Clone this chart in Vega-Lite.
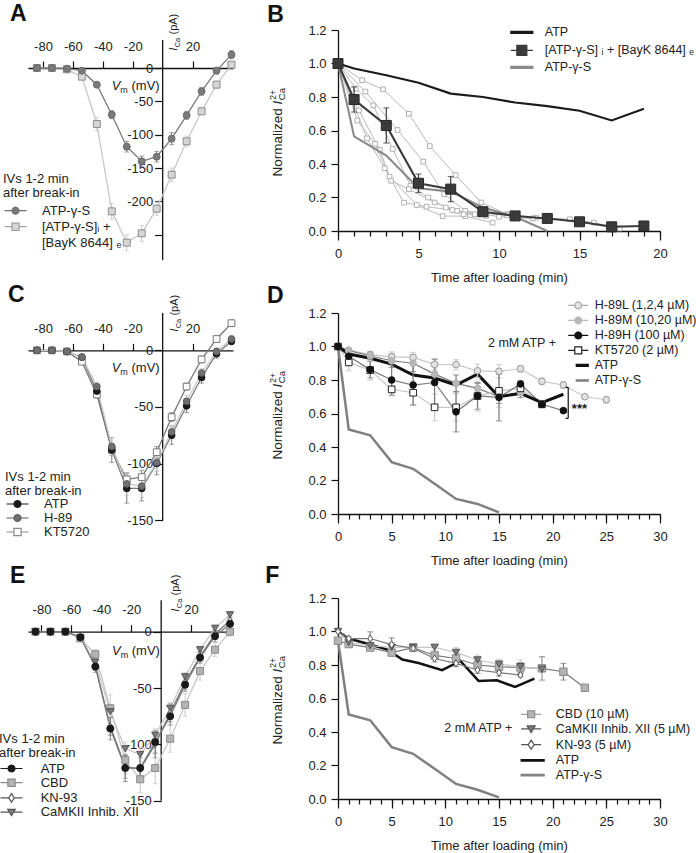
{
"$schema": "https://vega.github.io/schema/vega-lite/v6.json",
"autosize": {"type": "none"},
"padding": {"left": 28, "top": 30, "right": 668, "bottom": 823},
"background": "#ffffff",
"config": {
  "font": "Liberation Sans",
  "view": {"stroke": null},
  "axis": {"labelFont": "Liberation Sans", "labelFontSize": 13, "labelColor": "#222222", "domainColor": "#111111", "tickColor": "#111111", "domainWidth": 1.3, "tickWidth": 1.2, "grid": false, "titleFont": "Liberation Sans", "titleFontSize": 13, "titleFontWeight": "normal", "titleColor": "#222222", "labelFlush": false, "labelOverlap": false},
  "legend": {"labelFont": "Liberation Sans", "labelFontSize": 12.5, "labelColor": "#222222", "titleFont": "Liberation Sans", "titleFontSize": 12.5, "titleFontWeight": "normal", "titleColor": "#222222", "padding": 0, "labelLimit": 0, "titleLimit": 0, "symbolFillColor": "transparent", "symbolSize": 100, "symbolStrokeWidth": 1.2},
  "text": {"font": "Liberation Sans", "color": "#222222"}
},
"columns": 2,
"spacing": {"row": 53, "column": 105},
"bounds": "flush",
"align": "each",
"datasets": {
 "A": [
  {"s":"BayK","V":-84,"I":0,"e":0},{"s":"BayK","V":-74,"I":0,"e":0},{"s":"BayK","V":-64,"I":-2,"e":1},{"s":"BayK","V":-54,"I":-13,"e":2},{"s":"BayK","V":-44,"I":-84,"e":10},{"s":"BayK","V":-34,"I":-215,"e":12},{"s":"BayK","V":-24,"I":-262,"e":12},{"s":"BayK","V":-14,"I":-248,"e":12},{"s":"BayK","V":-4,"I":-211,"e":10},{"s":"BayK","V":6,"I":-160,"e":10},{"s":"BayK","V":16,"I":-110,"e":8},{"s":"BayK","V":26,"I":-65,"e":5},{"s":"BayK","V":36,"I":-25,"e":5},{"s":"BayK","V":46,"I":5,"e":3},
  {"s":"ATP-γ-S","V":-84,"I":0,"e":0},{"s":"ATP-γ-S","V":-74,"I":0,"e":0},{"s":"ATP-γ-S","V":-64,"I":-1,"e":0},{"s":"ATP-γ-S","V":-54,"I":-4,"e":1},{"s":"ATP-γ-S","V":-44,"I":-25,"e":3},{"s":"ATP-γ-S","V":-34,"I":-70,"e":6},{"s":"ATP-γ-S","V":-24,"I":-118,"e":8},{"s":"ATP-γ-S","V":-14,"I":-140,"e":8},{"s":"ATP-γ-S","V":-4,"I":-133,"e":8},{"s":"ATP-γ-S","V":6,"I":-106,"e":9},{"s":"ATP-γ-S","V":16,"I":-71,"e":6},{"s":"ATP-γ-S","V":26,"I":-35,"e":6},{"s":"ATP-γ-S","V":36,"I":-4,"e":5},{"s":"ATP-γ-S","V":46,"I":20,"e":6}
 ],
 "C": [
  {"s":"KT5720","V":-84,"I":0,"e":0},{"s":"KT5720","V":-74,"I":0,"e":0},{"s":"KT5720","V":-64,"I":-1,"e":0},{"s":"KT5720","V":-54,"I":-10,"e":1},{"s":"KT5720","V":-44,"I":-39,"e":3},{"s":"KT5720","V":-34,"I":-88,"e":5},{"s":"KT5720","V":-24,"I":-114,"e":6},{"s":"KT5720","V":-14,"I":-112,"e":6},{"s":"KT5720","V":-4,"I":-90,"e":5},{"s":"KT5720","V":6,"I":-59,"e":4},{"s":"KT5720","V":16,"I":-32,"e":3},{"s":"KT5720","V":26,"I":-8,"e":3},{"s":"KT5720","V":36,"I":10,"e":3},{"s":"KT5720","V":46,"I":24,"e":3},
  {"s":"ATP","V":-84,"I":0,"e":0},{"s":"ATP","V":-74,"I":0,"e":0},{"s":"ATP","V":-64,"I":-1,"e":0},{"s":"ATP","V":-54,"I":-6,"e":1},{"s":"ATP","V":-44,"I":-36,"e":5},{"s":"ATP","V":-34,"I":-88,"e":11},{"s":"ATP","V":-24,"I":-122,"e":13},{"s":"ATP","V":-14,"I":-122,"e":11},{"s":"ATP","V":-4,"I":-100,"e":10},{"s":"ATP","V":6,"I":-75,"e":8},{"s":"ATP","V":16,"I":-49,"e":6},{"s":"ATP","V":26,"I":-24,"e":5},{"s":"ATP","V":36,"I":-3,"e":4},{"s":"ATP","V":46,"I":8,"e":3},
  {"s":"H-89","V":-84,"I":0,"e":0},{"s":"H-89","V":-74,"I":0,"e":0},{"s":"H-89","V":-64,"I":-1,"e":0},{"s":"H-89","V":-54,"I":-6,"e":1},{"s":"H-89","V":-44,"I":-32,"e":4},{"s":"H-89","V":-34,"I":-85,"e":8},{"s":"H-89","V":-24,"I":-118,"e":10},{"s":"H-89","V":-14,"I":-120,"e":10},{"s":"H-89","V":-4,"I":-99,"e":8},{"s":"H-89","V":6,"I":-72,"e":6},{"s":"H-89","V":16,"I":-45,"e":5},{"s":"H-89","V":26,"I":-20,"e":4},{"s":"H-89","V":36,"I":-1,"e":3},{"s":"H-89","V":46,"I":10,"e":3}
 ],
 "E": [
  {"s":"CBD","V":-84,"I":0,"e":0},{"s":"CBD","V":-74,"I":0,"e":0},{"s":"CBD","V":-64,"I":0,"e":0},{"s":"CBD","V":-54,"I":-6,"e":1},{"s":"CBD","V":-44,"I":-20,"e":4},{"s":"CBD","V":-34,"I":-68,"e":12},{"s":"CBD","V":-24,"I":-114,"e":12},{"s":"CBD","V":-14,"I":-131,"e":12},{"s":"CBD","V":-4,"I":-121,"e":14},{"s":"CBD","V":6,"I":-95,"e":12},{"s":"CBD","V":16,"I":-65,"e":10},{"s":"CBD","V":26,"I":-35,"e":8},{"s":"CBD","V":36,"I":-16,"e":6},{"s":"CBD","V":46,"I":0,"e":4},
  {"s":"KN-93","V":-84,"I":0,"e":0},{"s":"KN-93","V":-74,"I":0,"e":0},{"s":"KN-93","V":-64,"I":0,"e":0},{"s":"KN-93","V":-54,"I":-5,"e":1},{"s":"KN-93","V":-44,"I":-30,"e":4},{"s":"KN-93","V":-34,"I":-84,"e":8},{"s":"KN-93","V":-24,"I":-120,"e":10},{"s":"KN-93","V":-14,"I":-122,"e":10},{"s":"KN-93","V":-4,"I":-100,"e":12},{"s":"KN-93","V":6,"I":-72,"e":8},{"s":"KN-93","V":16,"I":-45,"e":6},{"s":"KN-93","V":26,"I":-22,"e":4},{"s":"KN-93","V":36,"I":-2,"e":3},{"s":"KN-93","V":46,"I":10,"e":3},
  {"s":"CaMKII Inhib. XII","V":-84,"I":0,"e":0},{"s":"CaMKII Inhib. XII","V":-74,"I":0,"e":0},{"s":"CaMKII Inhib. XII","V":-64,"I":0,"e":0},{"s":"CaMKII Inhib. XII","V":-54,"I":-5,"e":1},{"s":"CaMKII Inhib. XII","V":-44,"I":-27,"e":3},{"s":"CaMKII Inhib. XII","V":-34,"I":-71,"e":6},{"s":"CaMKII Inhib. XII","V":-24,"I":-104,"e":6},{"s":"CaMKII Inhib. XII","V":-14,"I":-109,"e":6},{"s":"CaMKII Inhib. XII","V":-4,"I":-92,"e":6},{"s":"CaMKII Inhib. XII","V":6,"I":-68,"e":5},{"s":"CaMKII Inhib. XII","V":16,"I":-40,"e":4},{"s":"CaMKII Inhib. XII","V":26,"I":-16,"e":3},{"s":"CaMKII Inhib. XII","V":36,"I":3,"e":3},{"s":"CaMKII Inhib. XII","V":46,"I":15,"e":3},
  {"s":"ATP","V":-84,"I":0,"e":0},{"s":"ATP","V":-74,"I":0,"e":0},{"s":"ATP","V":-64,"I":0,"e":0},{"s":"ATP","V":-54,"I":-5,"e":1},{"s":"ATP","V":-44,"I":-31,"e":5},{"s":"ATP","V":-34,"I":-86,"e":10},{"s":"ATP","V":-24,"I":-121,"e":12},{"s":"ATP","V":-14,"I":-121,"e":12},{"s":"ATP","V":-4,"I":-98,"e":10},{"s":"ATP","V":6,"I":-75,"e":8},{"s":"ATP","V":16,"I":-47,"e":6},{"s":"ATP","V":26,"I":-23,"e":5},{"s":"ATP","V":36,"I":-4,"e":5},{"s":"ATP","V":46,"I":7,"e":4}
 ],
 "B": [
  {"s":"c1","t":0,"v":1},{"s":"c1","t":1.5,"v":0.9},{"s":"c1","t":2.8,"v":0.846},{"s":"c1","t":4.4,"v":0.7},{"s":"c1","t":5.7,"v":0.507},{"s":"c1","t":7.3,"v":0.334},{"s":"c1","t":8.9,"v":0.17},{"s":"c1","t":10.5,"v":0.1},{"s":"c1","t":12.3,"v":0.08},{"s":"c1","t":14.4,"v":0.07},{"s":"c1","t":15.9,"v":0.05},{"s":"c1","t":17.5,"v":0.015},
  {"s":"c2","t":0,"v":1},{"s":"c2","t":1.7,"v":0.832},{"s":"c2","t":3.7,"v":0.603},{"s":"c2","t":5.3,"v":0.414},{"s":"c2","t":6.6,"v":0.22},{"s":"c2","t":7.9,"v":0.12},{"s":"c2","t":10,"v":0.085},{"s":"c2","t":12.1,"v":0.075},
  {"s":"c3","t":0,"v":1},{"s":"c3","t":1.8,"v":0.553},{"s":"c3","t":2.9,"v":0.374},{"s":"c3","t":4.1,"v":0.169},{"s":"c3","t":5.5,"v":0.145},{"s":"c3","t":7.1,"v":0.125},{"s":"c3","t":8.5,"v":0.1},
  {"s":"c4","t":0,"v":1},{"s":"c4","t":1.3,"v":0.72},{"s":"c4","t":2.6,"v":0.484},{"s":"c4","t":3.2,"v":0.324},{"s":"c4","t":4.9,"v":0.155},{"s":"c4","t":6.5,"v":0.089},{"s":"c4","t":7.9,"v":0.089},{"s":"c4","t":9.6,"v":0.05},
  {"s":"c5","t":0,"v":1},{"s":"c5","t":1.1,"v":0.85},{"s":"c5","t":2.2,"v":0.75},{"s":"c5","t":3.4,"v":0.49},{"s":"c5","t":4.5,"v":0.27},{"s":"c5","t":5.6,"v":0.2},{"s":"c5","t":6.7,"v":0.14},{"s":"c5","t":7.8,"v":0.1},{"s":"c5","t":9.2,"v":0.09},
  {"s":"c6","t":0,"v":1},{"s":"c6","t":1.2,"v":0.66},{"s":"c6","t":2.3,"v":0.52},{"s":"c6","t":3.3,"v":0.3},{"s":"c6","t":4.4,"v":0.25},{"s":"c6","t":6,"v":0.17},{"s":"c6","t":7.4,"v":0.12},{"s":"c6","t":8.9,"v":0.105},{"s":"c6","t":10.5,"v":0.095},
  {"s":"ATP-γ-S","t":0,"v":1},{"s":"ATP-γ-S","t":1,"v":0.565},{"s":"ATP-γ-S","t":3,"v":0.45},{"s":"ATP-γ-S","t":5,"v":0.255},{"s":"ATP-γ-S","t":7,"v":0.235},{"s":"ATP-γ-S","t":9,"v":0.14},{"s":"ATP-γ-S","t":11,"v":0.085},{"s":"ATP-γ-S","t":13,"v":0},
  {"s":"BayK","t":0,"v":1,"e":0},{"s":"BayK","t":1,"v":0.785,"e":0.075},{"s":"BayK","t":3,"v":0.63,"e":0.105},{"s":"BayK","t":5,"v":0.285,"e":0.055},{"s":"BayK","t":7,"v":0.25,"e":0.075},{"s":"BayK","t":9,"v":0.115,"e":0.015},{"s":"BayK","t":11,"v":0.09,"e":0.012},{"s":"BayK","t":13,"v":0.075,"e":0.01},{"s":"BayK","t":15,"v":0.055,"e":0.01},{"s":"BayK","t":17,"v":0.025,"e":0.01},{"s":"BayK","t":19,"v":0.03,"e":0.01},
  {"s":"ATP","t":0,"v":1},{"s":"ATP","t":1,"v":0.97},{"s":"ATP","t":3,"v":0.93},{"s":"ATP","t":5,"v":0.885},{"s":"ATP","t":7,"v":0.82},{"s":"ATP","t":9,"v":0.8},{"s":"ATP","t":11,"v":0.767},{"s":"ATP","t":13,"v":0.745},{"s":"ATP","t":15,"v":0.718},{"s":"ATP","t":17,"v":0.66},{"s":"ATP","t":19,"v":0.73}
 ],
 "D": [
  {"s":"ATP-γ-S","t":0,"v":1},{"s":"ATP-γ-S","t":1,"v":0.505},{"s":"ATP-γ-S","t":3,"v":0.47},{"s":"ATP-γ-S","t":5,"v":0.31},{"s":"ATP-γ-S","t":7,"v":0.27},{"s":"ATP-γ-S","t":9,"v":0.18},{"s":"ATP-γ-S","t":11,"v":0.09},{"s":"ATP-γ-S","t":13,"v":0.06},{"s":"ATP-γ-S","t":15,"v":0.01},
  {"s":"H-89L (1,2,4 µM)","t":0,"v":1,"e":0},{"s":"H-89L (1,2,4 µM)","t":1,"v":0.978,"e":0.01},{"s":"H-89L (1,2,4 µM)","t":3,"v":0.952,"e":0.02},{"s":"H-89L (1,2,4 µM)","t":5,"v":0.938,"e":0.03},{"s":"H-89L (1,2,4 µM)","t":7,"v":0.935,"e":0.03},{"s":"H-89L (1,2,4 µM)","t":9,"v":0.893,"e":0.03},{"s":"H-89L (1,2,4 µM)","t":11,"v":0.892,"e":0.03},{"s":"H-89L (1,2,4 µM)","t":13,"v":0.855,"e":0.04},{"s":"H-89L (1,2,4 µM)","t":15,"v":0.852,"e":0.04},{"s":"H-89L (1,2,4 µM)","t":17,"v":0.867,"e":0.02},{"s":"H-89L (1,2,4 µM)","t":19,"v":0.792,"e":0.02},{"s":"H-89L (1,2,4 µM)","t":21,"v":0.77,"e":0.02},{"s":"H-89L (1,2,4 µM)","t":23,"v":0.7,"e":0.01},{"s":"H-89L (1,2,4 µM)","t":25,"v":0.682,"e":0.02},
  {"s":"H-89M (10,20 µM)","t":0,"v":1,"e":0},{"s":"H-89M (10,20 µM)","t":1,"v":0.975,"e":0.01},{"s":"H-89M (10,20 µM)","t":3,"v":0.945,"e":0.02},{"s":"H-89M (10,20 µM)","t":5,"v":0.915,"e":0.04},{"s":"H-89M (10,20 µM)","t":7,"v":0.9,"e":0.05},{"s":"H-89M (10,20 µM)","t":9,"v":0.835,"e":0.05},{"s":"H-89M (10,20 µM)","t":11,"v":0.78,"e":0.05},{"s":"H-89M (10,20 µM)","t":13,"v":0.75,"e":0.03},{"s":"H-89M (10,20 µM)","t":15,"v":0.7,"e":0.04},{"s":"H-89M (10,20 µM)","t":17,"v":0.725,"e":0.03},
  {"s":"KT5720 (2 µM)","t":0,"v":1,"e":0},{"s":"KT5720 (2 µM)","t":1,"v":0.905,"e":0.05},{"s":"KT5720 (2 µM)","t":3,"v":0.859,"e":0.06},{"s":"KT5720 (2 µM)","t":5,"v":0.744,"e":0.04},{"s":"KT5720 (2 µM)","t":7,"v":0.724,"e":0.07},{"s":"KT5720 (2 µM)","t":9,"v":0.637,"e":0.08},{"s":"KT5720 (2 µM)","t":11,"v":0.637,"e":0.08},{"s":"KT5720 (2 µM)","t":13,"v":0.704,"e":0.09},{"s":"KT5720 (2 µM)","t":15,"v":0.735,"e":0.1},{"s":"KT5720 (2 µM)","t":17,"v":0.75,"e":0.04},{"s":"KT5720 (2 µM)","t":19,"v":0.655,"e":0.02},
  {"s":"H-89H (100 µM)","t":0,"v":1,"e":0},{"s":"H-89H (100 µM)","t":1,"v":0.942,"e":0.03},{"s":"H-89H (100 µM)","t":3,"v":0.862,"e":0.05},{"s":"H-89H (100 µM)","t":5,"v":0.8,"e":0.09},{"s":"H-89H (100 µM)","t":7,"v":0.77,"e":0.12},{"s":"H-89H (100 µM)","t":9,"v":0.785,"e":0.14},{"s":"H-89H (100 µM)","t":11,"v":0.61,"e":0.12},{"s":"H-89H (100 µM)","t":13,"v":0.705,"e":0.08},{"s":"H-89H (100 µM)","t":15,"v":0.696,"e":0.14},{"s":"H-89H (100 µM)","t":17,"v":0.776,"e":0.02},{"s":"H-89H (100 µM)","t":19,"v":0.655,"e":0.02},{"s":"H-89H (100 µM)","t":21,"v":0.617,"e":0.01},
  {"s":"ATP","t":0,"v":1},{"s":"ATP","t":1,"v":0.955},{"s":"ATP","t":3,"v":0.93},{"s":"ATP","t":5,"v":0.895},{"s":"ATP","t":7,"v":0.83},{"s":"ATP","t":9,"v":0.812},{"s":"ATP","t":11,"v":0.77},{"s":"ATP","t":13,"v":0.835},{"s":"ATP","t":15,"v":0.7},{"s":"ATP","t":17,"v":0.72},{"s":"ATP","t":19,"v":0.665},{"s":"ATP","t":21,"v":0.715}
 ],
 "F": [
  {"s":"ATP-γ-S","t":0,"v":0.945},{"s":"ATP-γ-S","t":1,"v":0.505},{"s":"ATP-γ-S","t":3,"v":0.47},{"s":"ATP-γ-S","t":5,"v":0.31},{"s":"ATP-γ-S","t":7,"v":0.27},{"s":"ATP-γ-S","t":9,"v":0.18},{"s":"ATP-γ-S","t":11,"v":0.09},{"s":"ATP-γ-S","t":13,"v":0.055},{"s":"ATP-γ-S","t":15,"v":0.01},
  {"s":"ATP","t":0,"v":1},{"s":"ATP","t":1,"v":0.958},{"s":"ATP","t":3,"v":0.922},{"s":"ATP","t":4.6,"v":0.892},{"s":"ATP","t":6,"v":0.833},{"s":"ATP","t":7.5,"v":0.812},{"s":"ATP","t":9.7,"v":0.769},{"s":"ATP","t":11.4,"v":0.824},{"s":"ATP","t":13.1,"v":0.705},{"s":"ATP","t":14.8,"v":0.709},{"s":"ATP","t":16.5,"v":0.669},{"s":"ATP","t":18.3,"v":0.719},
  {"s":"CBD (10 µM)","t":0,"v":0.945,"e":0},{"s":"CBD (10 µM)","t":1,"v":0.925,"e":0.01},{"s":"CBD (10 µM)","t":3,"v":0.904,"e":0.01},{"s":"CBD (10 µM)","t":5,"v":0.874,"e":0.01},{"s":"CBD (10 µM)","t":7,"v":0.904,"e":0.02},{"s":"CBD (10 µM)","t":9,"v":0.857,"e":0.02},{"s":"CBD (10 µM)","t":11,"v":0.839,"e":0.02},{"s":"CBD (10 µM)","t":13,"v":0.8,"e":0.03},{"s":"CBD (10 µM)","t":15,"v":0.789,"e":0.03},{"s":"CBD (10 µM)","t":17,"v":0.785,"e":0.03},{"s":"CBD (10 µM)","t":19,"v":0.78,"e":0.07},{"s":"CBD (10 µM)","t":21,"v":0.76,"e":0.05},{"s":"CBD (10 µM)","t":23,"v":0.664,"e":0.01},
  {"s":"CaMKII Inhib. XII (5 µM)","t":0,"v":1,"e":0},{"s":"CaMKII Inhib. XII (5 µM)","t":1,"v":0.935,"e":0.01},{"s":"CaMKII Inhib. XII (5 µM)","t":3,"v":0.915,"e":0.03},{"s":"CaMKII Inhib. XII (5 µM)","t":5,"v":0.905,"e":0.03},{"s":"CaMKII Inhib. XII (5 µM)","t":7,"v":0.905,"e":0.02},{"s":"CaMKII Inhib. XII (5 µM)","t":9,"v":0.905,"e":0.02},{"s":"CaMKII Inhib. XII (5 µM)","t":11,"v":0.875,"e":0.03},{"s":"CaMKII Inhib. XII (5 µM)","t":13,"v":0.83,"e":0.03},{"s":"CaMKII Inhib. XII (5 µM)","t":15,"v":0.805,"e":0.03},{"s":"CaMKII Inhib. XII (5 µM)","t":17,"v":0.79,"e":0.04},{"s":"CaMKII Inhib. XII (5 µM)","t":19,"v":0.775,"e":0.07},
  {"s":"KN-93 (5 µM)","t":0,"v":1,"e":0},{"s":"KN-93 (5 µM)","t":1,"v":0.958,"e":0.01},{"s":"KN-93 (5 µM)","t":3,"v":0.958,"e":0.04},{"s":"KN-93 (5 µM)","t":5,"v":0.922,"e":0.04},{"s":"KN-93 (5 µM)","t":7,"v":0.9,"e":0.02},{"s":"KN-93 (5 µM)","t":9,"v":0.839,"e":0.02},{"s":"KN-93 (5 µM)","t":11,"v":0.81,"e":0.02},{"s":"KN-93 (5 µM)","t":13,"v":0.77,"e":0.02},{"s":"KN-93 (5 µM)","t":15,"v":0.754,"e":0.02},{"s":"KN-93 (5 µM)","t":17,"v":0.74,"e":0.01}
 ]
},
"concat": [
 {
  "width": 205, "height": 230,
  "resolve": {"scale": {"shape": "independent", "fill": "independent", "stroke": "independent"}, "axis": {"x": "independent", "y": "independent"}},
  "layer": [
   {"data": {"values": [{}]}, "mark": {"type": "rule", "color": "#111111", "strokeWidth": 1.3},
    "encoding": {"x": {"datum": 0, "type": "quantitative", "axis": null}, "y": {"datum": 42, "type": "quantitative", "axis": null}, "y2": {"datum": -288}}},
   {"data": {"name": "A"}, "mark": {"type": "line", "strokeWidth": 1.3},
    "encoding": {
     "x": {"field": "V", "type": "quantitative", "scale": {"domain": [-90, 47], "nice": false, "zero": false}, "axis": {"orient": "top", "offset": -38, "values": [-80, -60, -40, -20, 20], "tickSize": 7, "labelPadding": 8, "title": null, "labelExpr": "'' + datum.value"}},
     "y": {"field": "I", "type": "quantitative", "scale": {"domain": [-288, 57], "nice": false, "zero": false}, "axis": {"orient": "left", "offset": -134.67, "domain": false, "values": [0, -50, -100, -150, -200, -250], "tickSize": 8, "labelPadding": 2, "title": null, "labelExpr": "datum.value == -250 ? '' : '' + datum.value"}},
     "color": {"field": "s", "type": "nominal", "scale": {"domain": ["ATP-γ-S", "BayK"], "range": ["#7a7a7a", "#c8c8c8"]}, "legend": null}}},
   {"data": {"name": "A"}, "transform": [{"filter": "datum.e > 0"}], "mark": {"type": "errorbar", "ticks": {"size": 5}, "thickness": 1},
    "encoding": {"x": {"field": "V", "type": "quantitative", "axis": null}, "y": {"field": "I", "type": "quantitative", "axis": null}, "yError": {"field": "e"}, "color": {"field": "s", "type": "nominal", "scale": {"domain": ["ATP-γ-S", "BayK"], "range": ["#7a7a7a", "#c8c8c8"]}, "legend": null}}},
   {"data": {"name": "A"}, "mark": {"type": "point", "filled": true, "opacity": 1, "strokeWidth": 1, "size": 48},
    "encoding": {"x": {"field": "V", "type": "quantitative", "axis": null}, "y": {"field": "I", "type": "quantitative", "axis": null},
     "shape": {"field": "s", "type": "nominal", "scale": {"domain": ["ATP-γ-S", "BayK"], "range": ["circle", "square"]}, "legend": null},
     "fill": {"field": "s", "type": "nominal", "scale": {"domain": ["ATP-γ-S", "BayK"], "range": ["#7a7a7a", "#d6d6d6"]}, "legend": null},
     "stroke": {"field": "s", "type": "nominal", "scale": {"domain": ["ATP-γ-S", "BayK"], "range": ["#6a6a6a", "#8c8c8c"]}, "legend": null}}},
   {"data": {"values": [{"s": "ATP-γ-S"}, {"s": "BayK"}, {"s": "BayK2"}]}, "mark": {"type": "point", "opacity": 0},
    "encoding": {
     "shape": {"field": "s", "type": "nominal", "scale": {"domain": ["ATP-γ-S", "BayK", "BayK2"], "range": ["M-2.2,0L-0.7,0M0.7,0L2.2,0M0.7,0L0.606,0.35L0.35,0.606L0,0.7L-0.35,0.606L-0.606,0.35L-0.7,0L-0.606,-0.35L-0.35,-0.606L0,-0.7L0.35,-0.606L0.606,-0.35Z", "M-2.2,0L-0.72,0M0.72,0L2.2,0M-0.72,-0.72L0.72,-0.72L0.72,0.72L-0.72,0.72Z", "M0,0"]},
      "legend": {"orient": "none", "legendX": -25, "legendY": 142.7, "title": ["IVs 1-2 min", "after break-in"], "titleFontSize": 13, "titleLineHeight": 14.5, "titlePadding": 4, "labelFontSize": 13, "labelOffset": 20, "symbolOffset": 6, "rowPadding": 2, "labelExpr": "datum.label == 'BayK' ? '[ATP-γ-S]ᵢ +' : datum.label == 'BayK2' ? '[BayK 8644] ₑ' : datum.label"}},
     "fill": {"field": "s", "type": "nominal", "scale": {"domain": ["ATP-γ-S", "BayK", "BayK2"], "range": ["#7a7a7a", "#d6d6d6", "transparent"]},
      "legend": {"orient": "none", "legendX": -25, "legendY": 142.7, "title": ["IVs 1-2 min", "after break-in"], "titleFontSize": 13, "titleLineHeight": 14.5, "titlePadding": 4, "labelFontSize": 13, "labelOffset": 20, "symbolOffset": 6, "rowPadding": 2, "labelExpr": "datum.label == 'BayK' ? '[ATP-γ-S]ᵢ +' : datum.label == 'BayK2' ? '[BayK 8644] ₑ' : datum.label"}},
     "stroke": {"field": "s", "type": "nominal", "scale": {"domain": ["ATP-γ-S", "BayK", "BayK2"], "range": ["#6e6e6e", "#a0a0a0", "transparent"]},
      "legend": {"orient": "none", "legendX": -25, "legendY": 142.7, "title": ["IVs 1-2 min", "after break-in"], "titleFontSize": 13, "titleLineHeight": 14.5, "titlePadding": 4, "labelFontSize": 13, "labelOffset": 20, "symbolOffset": 6, "rowPadding": 2, "labelExpr": "datum.label == 'BayK' ? '[ATP-γ-S]ᵢ +' : datum.label == 'BayK2' ? '[BayK 8644] ₑ' : datum.label"}}}},
   {"data": {"values": [{}]}, "mark": {"type": "text", "text": "A", "fontSize": 23, "fontWeight": "bold", "align": "left", "baseline": "alphabetic", "dx": -18, "dy": -9, "color": "#111111"},
    "encoding": {"x": {"datum": -90, "type": "quantitative", "axis": null}, "y": {"datum": 57, "type": "quantitative", "axis": null}}},
   {"data": {"values": [{}]}, "mark": {"type": "text", "text": "V", "fontSize": 13, "fontStyle": "italic", "align": "left", "baseline": "alphabetic", "dx": -51, "dy": 21.5},
    "encoding": {"x": {"datum": 0, "type": "quantitative", "axis": null}, "y": {"datum": 0, "type": "quantitative", "axis": null}}},
   {"data": {"values": [{}]}, "mark": {"type": "text", "text": "m", "fontSize": 9, "align": "left", "baseline": "alphabetic", "dx": -42.3, "dy": 24.5},
    "encoding": {"x": {"datum": 0, "type": "quantitative", "axis": null}, "y": {"datum": 0, "type": "quantitative", "axis": null}}},
   {"data": {"values": [{}]}, "mark": {"type": "text", "text": "(mV)", "fontSize": 13, "align": "left", "baseline": "alphabetic", "dx": -31.2, "dy": 21.5},
    "encoding": {"x": {"datum": 0, "type": "quantitative", "axis": null}, "y": {"datum": 0, "type": "quantitative", "axis": null}}},
   {"data": {"values": [{}]}, "mark": {"type": "text", "text": "I", "fontSize": 11, "fontStyle": "italic", "angle": 270, "align": "left", "baseline": "alphabetic", "dx": 17.3, "dy": 14.6},
    "encoding": {"x": {"datum": 0, "type": "quantitative", "axis": null}, "y": {"datum": 0, "type": "quantitative", "axis": null}}},
   {"data": {"values": [{}]}, "mark": {"type": "text", "text": "Ca", "fontSize": 7.5, "angle": 270, "align": "left", "baseline": "alphabetic", "dx": 20.7, "dy": 17},
    "encoding": {"x": {"datum": 0, "type": "quantitative", "axis": null}, "y": {"datum": 0, "type": "quantitative", "axis": null}}},
   {"data": {"values": [{}]}, "mark": {"type": "text", "text": "(pA)", "fontSize": 11, "angle": 270, "align": "left", "baseline": "alphabetic", "dx": 33.5, "dy": 14.6},
    "encoding": {"x": {"datum": 0, "type": "quantitative", "axis": null}, "y": {"datum": 0, "type": "quantitative", "axis": null}}}
  ]
 },
 {
  "width": 322, "height": 201,
  "resolve": {"scale": {"shape": "independent", "fill": "independent", "stroke": "independent"}, "axis": {"x": "independent", "y": "independent"}},
  "layer": [
   {"data": {"name": "B"}, "transform": [{"filter": "indexof(datum.s, 'c') == 0"}], "mark": {"type": "line", "strokeWidth": 1, "color": "#bababa"},
    "encoding": {
     "x": {"field": "t", "type": "quantitative", "scale": {"domain": [0, 20], "nice": false, "zero": false}, "axis": {"orient": "bottom", "values": [0, 5, 10, 15, 20], "tickSize": 9, "labelPadding": 7, "title": "Time after loading (min)", "titlePadding": 11}},
     "y": {"field": "v", "type": "quantitative", "scale": {"domain": [0, 1.2], "nice": false, "zero": false}, "axis": {"orient": "left", "values": [0, 0.2, 0.4, 0.6, 0.8, 1, 1.2], "format": ".1f", "tickSize": 7, "labelPadding": 5, "title": null}},
     "detail": {"field": "s", "type": "nominal"}}},
   {"data": {"name": "B"}, "transform": [{"filter": "indexof(datum.s, 'c') == 0"}], "mark": {"type": "point", "shape": "square", "filled": true, "opacity": 1, "size": 22, "fill": "#ffffff", "stroke": "#b0b0b0", "strokeWidth": 1},
    "encoding": {"x": {"field": "t", "type": "quantitative", "axis": {"orient": "bottom", "values": [0,1,2,3,4,5,6,7,8,9,10,11,12,13,14,15,16,17,18,19,20], "tickSize": 5, "labels": false, "domain": false, "title": null}}, "y": {"field": "v", "type": "quantitative", "axis": null}}},
   {"data": {"name": "B"}, "transform": [{"filter": "datum.s == 'ATP-γ-S'"}], "mark": {"type": "line", "strokeWidth": 2.1, "color": "#8a8a8a"},
    "encoding": {"x": {"field": "t", "type": "quantitative", "axis": null}, "y": {"field": "v", "type": "quantitative", "axis": null}}},
   {"data": {"name": "B"}, "transform": [{"filter": "datum.s == 'BayK'"}], "mark": {"type": "line", "strokeWidth": 2.1, "color": "#3a3a3a"},
    "encoding": {"x": {"field": "t", "type": "quantitative", "axis": null}, "y": {"field": "v", "type": "quantitative", "axis": null}}},
   {"data": {"name": "B"}, "transform": [{"filter": "datum.s == 'ATP'"}], "mark": {"type": "line", "strokeWidth": 2.2, "color": "#1a1a1a"},
    "encoding": {"x": {"field": "t", "type": "quantitative", "axis": null}, "y": {"field": "v", "type": "quantitative", "axis": null}}},
   {"data": {"name": "B"}, "transform": [{"filter": "datum.e > 0"}], "mark": {"type": "errorbar", "ticks": {"size": 6}, "thickness": 1.2, "color": "#3a3a3a"},
    "encoding": {"x": {"field": "t", "type": "quantitative", "axis": null}, "y": {"field": "v", "type": "quantitative", "axis": null}, "yError": {"field": "e"}}},
   {"data": {"name": "B"}, "transform": [{"filter": "datum.s == 'BayK'"}], "mark": {"type": "point", "shape": "square", "filled": true, "opacity": 1, "size": 100, "fill": "#3a3a3a", "stroke": "#2a2a2a", "strokeWidth": 1},
    "encoding": {"x": {"field": "t", "type": "quantitative", "axis": null}, "y": {"field": "v", "type": "quantitative", "axis": null}}},
   {"data": {"values": [{"s": "ATP"}, {"s": "BayK"}, {"s": "ATP-γ-S"}]}, "mark": {"type": "point", "opacity": 0},
    "encoding": {
     "shape": {"field": "s", "type": "nominal", "scale": {"domain": ["ATP", "BayK", "ATP-γ-S"], "range": ["M-2.2,-0.2L2.2,-0.2L2.2,0.2L-2.2,0.2Z", "M-2.2,0L-1,0M1,0L2.2,0M-1,-1L1,-1L1,1L-1,1Z", "M-2.2,-0.2L2.2,-0.2L2.2,0.2L-2.2,0.2Z"]},
      "legend": {"orient": "none", "legendX": 171.6, "legendY": -3.8, "title": null, "labelFontSize": 12.5, "labelOffset": 16.7, "symbolOffset": 6, "rowPadding": 3, "labelExpr": "datum.label == 'BayK' ? '[ATP-γ-S] ᵢ + [BayK 8644] ₑ' : datum.label"}},
     "fill": {"field": "s", "type": "nominal", "scale": {"domain": ["ATP", "BayK", "ATP-γ-S"], "range": ["#1a1a1a", "#3a3a3a", "#8a8a8a"]},
      "legend": {"orient": "none", "legendX": 171.6, "legendY": -3.8, "title": null, "labelFontSize": 12.5, "labelOffset": 16.7, "symbolOffset": 6, "rowPadding": 3, "labelExpr": "datum.label == 'BayK' ? '[ATP-γ-S] ᵢ + [BayK 8644] ₑ' : datum.label"}},
     "stroke": {"field": "s", "type": "nominal", "scale": {"domain": ["ATP", "BayK", "ATP-γ-S"], "range": ["#1a1a1a", "#3a3a3a", "#8a8a8a"]},
      "legend": {"orient": "none", "legendX": 171.6, "legendY": -3.8, "title": null, "labelFontSize": 12.5, "labelOffset": 16.7, "symbolOffset": 6, "rowPadding": 3, "labelExpr": "datum.label == 'BayK' ? '[ATP-γ-S] ᵢ + [BayK 8644] ₑ' : datum.label"}}}},
   {"data": {"values": [{}]}, "mark": {"type": "text", "text": "B", "fontSize": 23, "fontWeight": "bold", "align": "left", "baseline": "alphabetic", "dx": -70.7, "dy": -8, "color": "#111111"},
    "encoding": {"x": {"datum": 0, "type": "quantitative", "axis": null}, "y": {"datum": 1.2, "type": "quantitative", "axis": null}}},
   {"data": {"values": [{}]}, "mark": {"type": "text", "text": "Normalized", "fontSize": 13.5, "angle": 270, "align": "left", "baseline": "alphabetic", "dx": -46, "dy": -56},
    "encoding": {"x": {"datum": 0, "type": "quantitative", "axis": null}, "y": {"datum": 0.6, "type": "quantitative", "axis": null}}},
   {"data": {"values": [{}]}, "mark": {"type": "text", "text": "I", "fontSize": 13.5, "fontStyle": "italic", "angle": 270, "align": "left", "baseline": "alphabetic", "dx": 26, "dy": -56},
    "encoding": {"x": {"datum": 0, "type": "quantitative", "axis": null}, "y": {"datum": 0.6, "type": "quantitative", "axis": null}}},
   {"data": {"values": [{}]}, "mark": {"type": "text", "text": "Ca", "fontSize": 9.5, "angle": 270, "align": "left", "baseline": "alphabetic", "dx": 30.3, "dy": -53},
    "encoding": {"x": {"datum": 0, "type": "quantitative", "axis": null}, "y": {"datum": 0.6, "type": "quantitative", "axis": null}}},
   {"data": {"values": [{}]}, "mark": {"type": "text", "text": "2+", "fontSize": 8.5, "angle": 270, "align": "left", "baseline": "alphabetic", "dx": 30.8, "dy": -62.5},
    "encoding": {"x": {"datum": 0, "type": "quantitative", "axis": null}, "y": {"datum": 0.6, "type": "quantitative", "axis": null}}}
  ]
 },
 {
  "width": 205, "height": 232,
  "resolve": {"scale": {"shape": "independent", "fill": "independent", "stroke": "independent"}, "axis": {"x": "independent", "y": "independent"}},
  "layer": [
   {"data": {"values": [{}]}, "mark": {"type": "rule", "color": "#111111", "strokeWidth": 1.3},
    "encoding": {"x": {"datum": 0, "type": "quantitative", "axis": null}, "y": {"datum": 33, "type": "quantitative", "axis": null}, "y2": {"datum": -150}}},
   {"data": {"name": "C"}, "mark": {"type": "line", "strokeWidth": 1.3},
    "encoding": {
     "x": {"field": "V", "type": "quantitative", "scale": {"domain": [-90, 47], "nice": false, "zero": false}, "axis": {"orient": "top", "offset": -37.35, "values": [-80, -60, -40, -20, 20], "tickSize": 7, "labelPadding": 8, "title": null, "labelExpr": "'' + datum.value"}},
     "y": {"field": "I", "type": "quantitative", "scale": {"domain": [-172, 33], "nice": false, "zero": false}, "axis": {"orient": "left", "offset": -134.67, "domain": false, "values": [0, -50, -100, -150], "tickSize": 8, "labelPadding": 2, "title": null, "labelExpr": "'' + datum.value"}},
     "color": {"field": "s", "type": "nominal", "scale": {"domain": ["ATP", "H-89", "KT5720"], "range": ["#1a1a1a", "#6e6e6e", "#c4c4c4"]}, "legend": null}}},
   {"data": {"name": "C"}, "transform": [{"filter": "datum.e > 0"}], "mark": {"type": "errorbar", "ticks": {"size": 5}, "thickness": 1},
    "encoding": {"x": {"field": "V", "type": "quantitative", "axis": null}, "y": {"field": "I", "type": "quantitative", "axis": null}, "yError": {"field": "e"}, "color": {"field": "s", "type": "nominal", "scale": {"domain": ["ATP", "H-89", "KT5720"], "range": ["#1a1a1a", "#6e6e6e", "#c4c4c4"]}, "legend": null}}},
   {"data": {"name": "C"}, "mark": {"type": "point", "filled": true, "opacity": 1, "strokeWidth": 1, "size": 45},
    "encoding": {"x": {"field": "V", "type": "quantitative", "axis": null}, "y": {"field": "I", "type": "quantitative", "axis": null},
     "shape": {"field": "s", "type": "nominal", "scale": {"domain": ["ATP", "H-89", "KT5720"], "range": ["circle", "circle", "square"]}, "legend": null},
     "fill": {"field": "s", "type": "nominal", "scale": {"domain": ["ATP", "H-89", "KT5720"], "range": ["#1a1a1a", "#707070", "#ffffff"]}, "legend": null},
     "stroke": {"field": "s", "type": "nominal", "scale": {"domain": ["ATP", "H-89", "KT5720"], "range": ["#1a1a1a", "#5a5a5a", "#777777"]}, "legend": null}}},
   {"data": {"values": [{"s": "ATP"}, {"s": "H-89"}, {"s": "KT5720"}]}, "mark": {"type": "point", "opacity": 0},
    "encoding": {
     "shape": {"field": "s", "type": "nominal", "scale": {"domain": ["ATP", "H-89", "KT5720"], "range": ["M-2.2,0L-0.7,0M0.7,0L2.2,0M0.7,0L0.606,0.35L0.35,0.606L0,0.7L-0.35,0.606L-0.606,0.35L-0.7,0L-0.606,-0.35L-0.35,-0.606L0,-0.7L0.35,-0.606L0.606,-0.35Z", "M-2.2,0L-0.7,0M0.7,0L2.2,0M0.7,0L0.606,0.35L0.35,0.606L0,0.7L-0.35,0.606L-0.606,0.35L-0.7,0L-0.606,-0.35L-0.35,-0.606L0,-0.7L0.35,-0.606L0.606,-0.35Z", "M-2.2,0L-0.72,0M0.72,0L2.2,0M-0.72,-0.72L0.72,-0.72L0.72,0.72L-0.72,0.72Z"]},
      "legend": {"orient": "none", "legendX": -23, "legendY": 158, "title": ["IVs 1-2 min", "after break-in"], "titleFontSize": 13, "titleLineHeight": 13.5, "titlePadding": 0, "labelFontSize": 13, "labelOffset": 20, "symbolOffset": 6, "rowPadding": -1}},
     "fill": {"field": "s", "type": "nominal", "scale": {"domain": ["ATP", "H-89", "KT5720"], "range": ["#1a1a1a", "#707070", "#ffffff"]},
      "legend": {"orient": "none", "legendX": -23, "legendY": 158, "title": ["IVs 1-2 min", "after break-in"], "titleFontSize": 13, "titleLineHeight": 13.5, "titlePadding": 0, "labelFontSize": 13, "labelOffset": 20, "symbolOffset": 6, "rowPadding": -1}},
     "stroke": {"field": "s", "type": "nominal", "scale": {"domain": ["ATP", "H-89", "KT5720"], "range": ["#1a1a1a", "#5a5a5a", "#8a8a8a"]},
      "legend": {"orient": "none", "legendX": -23, "legendY": 158, "title": ["IVs 1-2 min", "after break-in"], "titleFontSize": 13, "titleLineHeight": 13.5, "titlePadding": 0, "labelFontSize": 13, "labelOffset": 20, "symbolOffset": 6, "rowPadding": -1}}}},
   {"data": {"values": [{}]}, "mark": {"type": "text", "text": "C", "fontSize": 23, "fontWeight": "bold", "align": "left", "baseline": "alphabetic", "dx": -20, "dy": -11, "color": "#111111"},
    "encoding": {"x": {"datum": -90, "type": "quantitative", "axis": null}, "y": {"datum": 33, "type": "quantitative", "axis": null}}},
   {"data": {"values": [{}]}, "mark": {"type": "text", "text": "V", "fontSize": 13, "fontStyle": "italic", "align": "left", "baseline": "alphabetic", "dx": -51, "dy": 21.5},
    "encoding": {"x": {"datum": 0, "type": "quantitative", "axis": null}, "y": {"datum": 0, "type": "quantitative", "axis": null}}},
   {"data": {"values": [{}]}, "mark": {"type": "text", "text": "m", "fontSize": 9, "align": "left", "baseline": "alphabetic", "dx": -42.3, "dy": 24.5},
    "encoding": {"x": {"datum": 0, "type": "quantitative", "axis": null}, "y": {"datum": 0, "type": "quantitative", "axis": null}}},
   {"data": {"values": [{}]}, "mark": {"type": "text", "text": "(mV)", "fontSize": 13, "align": "left", "baseline": "alphabetic", "dx": -31.2, "dy": 21.5},
    "encoding": {"x": {"datum": 0, "type": "quantitative", "axis": null}, "y": {"datum": 0, "type": "quantitative", "axis": null}}},
   {"data": {"values": [{}]}, "mark": {"type": "text", "text": "I", "fontSize": 11, "fontStyle": "italic", "angle": 270, "align": "left", "baseline": "alphabetic", "dx": 18.6, "dy": 15.7},
    "encoding": {"x": {"datum": 0, "type": "quantitative", "axis": null}, "y": {"datum": 0, "type": "quantitative", "axis": null}}},
   {"data": {"values": [{}]}, "mark": {"type": "text", "text": "Ca", "fontSize": 7.5, "angle": 270, "align": "left", "baseline": "alphabetic", "dx": 22, "dy": 18.1},
    "encoding": {"x": {"datum": 0, "type": "quantitative", "axis": null}, "y": {"datum": 0, "type": "quantitative", "axis": null}}},
   {"data": {"values": [{}]}, "mark": {"type": "text", "text": "(pA)", "fontSize": 11, "angle": 270, "align": "left", "baseline": "alphabetic", "dx": 34.8, "dy": 15.7},
    "encoding": {"x": {"datum": 0, "type": "quantitative", "axis": null}, "y": {"datum": 0, "type": "quantitative", "axis": null}}}
  ]
 },
 {
  "width": 322, "height": 201,
  "resolve": {"scale": {"shape": "independent", "fill": "independent", "stroke": "independent"}, "axis": {"x": "independent", "y": "independent"}},
  "layer": [
   {"data": {"name": "D"}, "transform": [{"filter": "datum.s != 'ATP' && datum.s != 'ATP-γ-S'"}], "mark": {"type": "line", "strokeWidth": 1.2},
    "encoding": {
     "x": {"field": "t", "type": "quantitative", "scale": {"domain": [0, 30], "nice": false, "zero": false}, "axis": {"orient": "bottom", "values": [0, 5, 10, 15, 20, 25, 30], "tickSize": 9, "labelPadding": 7, "title": "Time after loading (min)", "titlePadding": 11}},
     "y": {"field": "v", "type": "quantitative", "scale": {"domain": [0, 1.2], "nice": false, "zero": false}, "axis": {"orient": "left", "values": [0, 0.2, 0.4, 0.6, 0.8, 1, 1.2], "format": ".1f", "tickSize": 7, "labelPadding": 5, "title": null}},
     "color": {"field": "s", "type": "nominal", "scale": {"domain": ["H-89L (1,2,4 µM)", "H-89M (10,20 µM)", "KT5720 (2 µM)", "H-89H (100 µM)"], "range": ["#c8c8c8", "#b8b8b8", "#2a2a2a", "#1a1a1a"]}, "legend": null}}},
   {"data": {"name": "D"}, "transform": [{"filter": "datum.s == 'ATP-γ-S'"}], "mark": {"type": "line", "strokeWidth": 2.5, "color": "#808080"},
    "encoding": {"x": {"field": "t", "type": "quantitative", "axis": null}, "y": {"field": "v", "type": "quantitative", "axis": null}}},
   {"data": {"name": "D"}, "transform": [{"filter": "datum.s == 'ATP'"}], "mark": {"type": "line", "strokeWidth": 3, "color": "#111111"},
    "encoding": {"x": {"field": "t", "type": "quantitative", "axis": null}, "y": {"field": "v", "type": "quantitative", "axis": null}}},
   {"data": {"name": "D"}, "transform": [{"filter": "datum.e > 0"}], "mark": {"type": "errorbar", "ticks": {"size": 6}, "thickness": 1.2},
    "encoding": {"x": {"field": "t", "type": "quantitative", "axis": null}, "y": {"field": "v", "type": "quantitative", "axis": null}, "yError": {"field": "e"}, "color": {"field": "s", "type": "nominal", "scale": {"domain": ["H-89L (1,2,4 µM)", "H-89M (10,20 µM)", "KT5720 (2 µM)", "H-89H (100 µM)"], "range": ["#c8c8c8", "#b8b8b8", "#2a2a2a", "#1a1a1a"]}, "legend": null}}},
   {"data": {"name": "D"}, "transform": [{"filter": "datum.s != 'ATP' && datum.s != 'ATP-γ-S'"}], "mark": {"type": "point", "filled": true, "opacity": 1, "strokeWidth": 1, "size": 44},
    "encoding": {"x": {"field": "t", "type": "quantitative", "axis": {"orient": "bottom", "values": [0,1,2,3,4,5,6,7,8,9,10,11,12,13,14,15,16,17,18,19,20,21,22,23,24,25,26,27,28,29,30], "tickSize": 5, "labels": false, "domain": false, "title": null}}, "y": {"field": "v", "type": "quantitative", "axis": null},
     "shape": {"field": "s", "type": "nominal", "scale": {"domain": ["H-89L (1,2,4 µM)", "H-89M (10,20 µM)", "KT5720 (2 µM)", "H-89H (100 µM)"], "range": ["circle", "circle", "square", "circle"]}, "legend": null},
     "fill": {"field": "s", "type": "nominal", "scale": {"domain": ["H-89L (1,2,4 µM)", "H-89M (10,20 µM)", "KT5720 (2 µM)", "H-89H (100 µM)"], "range": ["#e2e2e2", "#b8b8b8", "#ffffff", "#111111"]}, "legend": null},
     "stroke": {"field": "s", "type": "nominal", "scale": {"domain": ["H-89L (1,2,4 µM)", "H-89M (10,20 µM)", "KT5720 (2 µM)", "H-89H (100 µM)"], "range": ["#9a9a9a", "#b0b0b0", "#222222", "#111111"]}, "legend": null}}},
   {"data": {"values": [{}]}, "mark": {"type": "rule", "color": "#111111", "strokeWidth": 1.2},
    "encoding": {"x": {"datum": 21.45, "type": "quantitative", "axis": null}, "y": {"datum": 0.571, "type": "quantitative", "axis": null}, "y2": {"datum": 0.756}}},
   {"data": {"values": [{}]}, "mark": {"type": "rule", "color": "#111111", "strokeWidth": 1.2},
    "encoding": {"x": {"datum": 21.2, "type": "quantitative", "axis": null}, "x2": {"datum": 21.45}, "y": {"datum": 0.756, "type": "quantitative", "axis": null}}},
   {"data": {"values": [{}]}, "mark": {"type": "rule", "color": "#111111", "strokeWidth": 1.2},
    "encoding": {"x": {"datum": 21.2, "type": "quantitative", "axis": null}, "x2": {"datum": 21.45}, "y": {"datum": 0.571, "type": "quantitative", "axis": null}}},
   {"data": {"values": [{}]}, "mark": {"type": "text", "text": "***", "fontSize": 13, "fontWeight": "bold", "align": "left", "baseline": "middle", "dx": 2, "dy": 2},
    "encoding": {"x": {"datum": 21.6, "type": "quantitative", "axis": null}, "y": {"datum": 0.64, "type": "quantitative", "axis": null}}},
   {"data": {"values": [{"s": "ATP"}]}, "mark": {"type": "point", "opacity": 0},
    "encoding": {
     "shape": {"field": "s", "type": "nominal", "scale": {"domain": ["H-89L (1,2,4 µM)", "H-89M (10,20 µM)", "H-89H (100 µM)", "KT5720 (2 µM)", "ATP", "ATP-γ-S"], "range": ["M-2,0L-0.7,0M0.7,0L2,0M0.7,0L0.606,0.35L0.35,0.606L0,0.7L-0.35,0.606L-0.606,0.35L-0.7,0L-0.606,-0.35L-0.35,-0.606L0,-0.7L0.35,-0.606L0.606,-0.35Z", "M-2,0L-0.7,0M0.7,0L2,0M0.7,0L0.606,0.35L0.35,0.606L0,0.7L-0.35,0.606L-0.606,0.35L-0.7,0L-0.606,-0.35L-0.35,-0.606L0,-0.7L0.35,-0.606L0.606,-0.35Z", "M-2,0L-0.7,0M0.7,0L2,0M0.7,0L0.606,0.35L0.35,0.606L0,0.7L-0.35,0.606L-0.606,0.35L-0.7,0L-0.606,-0.35L-0.35,-0.606L0,-0.7L0.35,-0.606L0.606,-0.35Z", "M-2,0L-0.7,0M0.7,0L2,0M-0.7,-0.7L0.7,-0.7L0.7,0.7L-0.7,0.7Z", "M-0.4,-0.2L2,-0.2L2,0.2L-0.4,0.2Z", "M-0.4,-0.13L2,-0.13L2,0.13L-0.4,0.13Z"]},
      "legend": {"orient": "none", "legendX": 150, "legendY": -13.8, "title": "2 mM ATP +", "titleOrient": "left", "titleAnchor": "middle", "titleBaseline": "middle", "titlePadding": 10, "labelFontSize": 12.5, "labelOffset": 10.3, "symbolOffset": 5, "rowPadding": 2}},
     "fill": {"field": "s", "type": "nominal", "scale": {"domain": ["H-89L (1,2,4 µM)", "H-89M (10,20 µM)", "H-89H (100 µM)", "KT5720 (2 µM)", "ATP", "ATP-γ-S"], "range": ["#e2e2e2", "#b8b8b8", "#111111", "#ffffff", "#111111", "#808080"]},
      "legend": {"orient": "none", "legendX": 150, "legendY": -13.8, "title": "2 mM ATP +", "titleOrient": "left", "titleAnchor": "middle", "titleBaseline": "middle", "titlePadding": 10, "labelFontSize": 12.5, "labelOffset": 10.3, "symbolOffset": 5, "rowPadding": 2}},
     "stroke": {"field": "s", "type": "nominal", "scale": {"domain": ["H-89L (1,2,4 µM)", "H-89M (10,20 µM)", "H-89H (100 µM)", "KT5720 (2 µM)", "ATP", "ATP-γ-S"], "range": ["#a8a8a8", "#b8b8b8", "#111111", "#222222", "#111111", "#808080"]},
      "legend": {"orient": "none", "legendX": 150, "legendY": -13.8, "title": "2 mM ATP +", "titleOrient": "left", "titleAnchor": "middle", "titleBaseline": "middle", "titlePadding": 10, "labelFontSize": 12.5, "labelOffset": 10.3, "symbolOffset": 5, "rowPadding": 2}}}},
   {"data": {"values": [{}]}, "mark": {"type": "text", "text": "D", "fontSize": 23, "fontWeight": "bold", "align": "left", "baseline": "alphabetic", "dx": -71, "dy": -10, "color": "#111111"},
    "encoding": {"x": {"datum": 0, "type": "quantitative", "axis": null}, "y": {"datum": 1.2, "type": "quantitative", "axis": null}}},
   {"data": {"values": [{}]}, "mark": {"type": "text", "text": "Normalized", "fontSize": 13.5, "angle": 270, "align": "left", "baseline": "alphabetic", "dx": -46, "dy": -56},
    "encoding": {"x": {"datum": 0, "type": "quantitative", "axis": null}, "y": {"datum": 0.6, "type": "quantitative", "axis": null}}},
   {"data": {"values": [{}]}, "mark": {"type": "text", "text": "I", "fontSize": 13.5, "fontStyle": "italic", "angle": 270, "align": "left", "baseline": "alphabetic", "dx": 26, "dy": -56},
    "encoding": {"x": {"datum": 0, "type": "quantitative", "axis": null}, "y": {"datum": 0.6, "type": "quantitative", "axis": null}}},
   {"data": {"values": [{}]}, "mark": {"type": "text", "text": "Ca", "fontSize": 9.5, "angle": 270, "align": "left", "baseline": "alphabetic", "dx": 30.3, "dy": -53},
    "encoding": {"x": {"datum": 0, "type": "quantitative", "axis": null}, "y": {"datum": 0.6, "type": "quantitative", "axis": null}}},
   {"data": {"values": [{}]}, "mark": {"type": "text", "text": "2+", "fontSize": 8.5, "angle": 270, "align": "left", "baseline": "alphabetic", "dx": 30.8, "dy": -62.5},
    "encoding": {"x": {"datum": 0, "type": "quantitative", "axis": null}, "y": {"datum": 0.6, "type": "quantitative", "axis": null}}}
  ]
 },
 {
  "width": 205, "height": 203,
  "resolve": {"scale": {"shape": "independent", "fill": "independent", "stroke": "independent"}, "axis": {"x": "independent", "y": "independent"}},
  "layer": [
   {"data": {"values": [{}]}, "mark": {"type": "rule", "color": "#111111", "strokeWidth": 1.3},
    "encoding": {"x": {"datum": 0, "type": "quantitative", "axis": null}, "y": {"datum": 28, "type": "quantitative", "axis": null}, "y2": {"datum": -150}}},
   {"data": {"name": "E"}, "mark": {"type": "line", "strokeWidth": 1.3},
    "encoding": {
     "x": {"field": "V", "type": "quantitative", "scale": {"domain": [-89, 48], "nice": false, "zero": false}, "axis": {"orient": "top", "offset": -33.68, "values": [-80, -60, -40, -20, 20], "tickSize": 7, "labelPadding": 8, "title": null, "labelExpr": "'' + datum.value"}},
     "y": {"field": "I", "type": "quantitative", "scale": {"domain": [-150.3, 29.9], "nice": false, "zero": false}, "axis": {"orient": "left", "offset": -133.18, "domain": false, "values": [0, -50, -100, -150], "tickSize": 8, "labelPadding": 2, "title": null, "labelExpr": "'' + datum.value"}},
     "color": {"field": "s", "type": "nominal", "scale": {"domain": ["ATP", "CBD", "KN-93", "CaMKII Inhib. XII"], "range": ["#1a1a1a", "#c8c8c8", "#9a9a9a", "#7a7a7a"]}, "legend": null}}},
   {"data": {"name": "E"}, "transform": [{"filter": "datum.e > 0"}], "mark": {"type": "errorbar", "ticks": {"size": 5}, "thickness": 1},
    "encoding": {"x": {"field": "V", "type": "quantitative", "axis": null}, "y": {"field": "I", "type": "quantitative", "axis": null}, "yError": {"field": "e"}, "color": {"field": "s", "type": "nominal", "scale": {"domain": ["ATP", "CBD", "KN-93", "CaMKII Inhib. XII"], "range": ["#1a1a1a", "#c8c8c8", "#9a9a9a", "#7a7a7a"]}, "legend": null}}},
   {"data": {"name": "E"}, "mark": {"type": "point", "filled": true, "opacity": 1, "strokeWidth": 1, "size": 50},
    "encoding": {"x": {"field": "V", "type": "quantitative", "axis": null}, "y": {"field": "I", "type": "quantitative", "axis": null},
     "shape": {"field": "s", "type": "nominal", "scale": {"domain": ["ATP", "CBD", "KN-93", "CaMKII Inhib. XII"], "range": ["circle", "square", "M0,-1L0.62,0L0,1L-0.62,0Z", "triangle-down"]}, "legend": null},
     "fill": {"field": "s", "type": "nominal", "scale": {"domain": ["ATP", "CBD", "KN-93", "CaMKII Inhib. XII"], "range": ["#1a1a1a", "#b4b4b4", "#ffffff", "#7a7a7a"]}, "legend": null},
     "stroke": {"field": "s", "type": "nominal", "scale": {"domain": ["ATP", "CBD", "KN-93", "CaMKII Inhib. XII"], "range": ["#1a1a1a", "#8a8a8a", "#555555", "#555555"]}, "legend": null}}},
   {"data": {"values": [{"s": "ATP"}]}, "mark": {"type": "point", "opacity": 0},
    "encoding": {
     "shape": {"field": "s", "type": "nominal", "scale": {"domain": ["ATP", "CBD", "KN-93", "CaMKII Inhib. XII"], "range": ["M-2.2,0L-0.7,0M0.7,0L2.2,0M0.7,0L0.606,0.35L0.35,0.606L0,0.7L-0.35,0.606L-0.606,0.35L-0.7,0L-0.606,-0.35L-0.35,-0.606L0,-0.7L0.35,-0.606L0.606,-0.35Z", "M-2.2,0L-0.72,0M0.72,0L2.2,0M-0.72,-0.72L0.72,-0.72L0.72,0.72L-0.72,0.72Z", "M-2.2,0L-0.56,0M0.56,0L2.2,0M0,-0.85L0.56,0L0,0.85L-0.56,0Z", "M-2.2,0L-0.42,0M0.42,0L2.2,0M-0.76,-0.56L0.76,-0.56L0,0.7Z"]},
      "legend": {"orient": "none", "legendX": -29, "legendY": 134.7, "title": ["IVs 1-2 min", "after break-in"], "titleFontSize": 13, "titleLineHeight": 14.3, "titlePadding": 2, "labelFontSize": 13, "labelOffset": 22.7, "symbolOffset": 6, "rowPadding": 0.2}},
     "fill": {"field": "s", "type": "nominal", "scale": {"domain": ["ATP", "CBD", "KN-93", "CaMKII Inhib. XII"], "range": ["#1a1a1a", "#b4b4b4", "#ffffff", "#7a7a7a"]},
      "legend": {"orient": "none", "legendX": -29, "legendY": 134.7, "title": ["IVs 1-2 min", "after break-in"], "titleFontSize": 13, "titleLineHeight": 14.3, "titlePadding": 2, "labelFontSize": 13, "labelOffset": 22.7, "symbolOffset": 6, "rowPadding": 0.2}},
     "stroke": {"field": "s", "type": "nominal", "scale": {"domain": ["ATP", "CBD", "KN-93", "CaMKII Inhib. XII"], "range": ["#1a1a1a", "#8a8a8a", "#555555", "#555555"]},
      "legend": {"orient": "none", "legendX": -29, "legendY": 134.7, "title": ["IVs 1-2 min", "after break-in"], "titleFontSize": 13, "titleLineHeight": 14.3, "titlePadding": 2, "labelFontSize": 13, "labelOffset": 22.7, "symbolOffset": 6, "rowPadding": 0.2}}}},
   {"data": {"values": [{}]}, "mark": {"type": "text", "text": "E", "fontSize": 23, "fontWeight": "bold", "align": "left", "baseline": "alphabetic", "dx": -18, "dy": -15, "color": "#111111"},
    "encoding": {"x": {"datum": -89, "type": "quantitative", "axis": null}, "y": {"datum": 29.9, "type": "quantitative", "axis": null}}},
   {"data": {"values": [{}]}, "mark": {"type": "text", "text": "V", "fontSize": 13, "fontStyle": "italic", "align": "left", "baseline": "alphabetic", "dx": -49.2, "dy": 23.8},
    "encoding": {"x": {"datum": 0, "type": "quantitative", "axis": null}, "y": {"datum": 0, "type": "quantitative", "axis": null}}},
   {"data": {"values": [{}]}, "mark": {"type": "text", "text": "m", "fontSize": 9, "align": "left", "baseline": "alphabetic", "dx": -40.5, "dy": 26.8},
    "encoding": {"x": {"datum": 0, "type": "quantitative", "axis": null}, "y": {"datum": 0, "type": "quantitative", "axis": null}}},
   {"data": {"values": [{}]}, "mark": {"type": "text", "text": "(mV)", "fontSize": 13, "align": "left", "baseline": "alphabetic", "dx": -29.4, "dy": 23.8},
    "encoding": {"x": {"datum": 0, "type": "quantitative", "axis": null}, "y": {"datum": 0, "type": "quantitative", "axis": null}}},
   {"data": {"values": [{}]}, "mark": {"type": "text", "text": "I", "fontSize": 11, "fontStyle": "italic", "angle": 270, "align": "left", "baseline": "alphabetic", "dx": 20, "dy": 18},
    "encoding": {"x": {"datum": 0, "type": "quantitative", "axis": null}, "y": {"datum": 0, "type": "quantitative", "axis": null}}},
   {"data": {"values": [{}]}, "mark": {"type": "text", "text": "Ca", "fontSize": 7.5, "angle": 270, "align": "left", "baseline": "alphabetic", "dx": 23.4, "dy": 20.4},
    "encoding": {"x": {"datum": 0, "type": "quantitative", "axis": null}, "y": {"datum": 0, "type": "quantitative", "axis": null}}},
   {"data": {"values": [{}]}, "mark": {"type": "text", "text": "(pA)", "fontSize": 11, "angle": 270, "align": "left", "baseline": "alphabetic", "dx": 36.2, "dy": 18},
    "encoding": {"x": {"datum": 0, "type": "quantitative", "axis": null}, "y": {"datum": 0, "type": "quantitative", "axis": null}}}
  ]
 },
 {
  "width": 322, "height": 201,
  "resolve": {"scale": {"shape": "independent", "fill": "independent", "stroke": "independent"}, "axis": {"x": "independent", "y": "independent"}},
  "layer": [
   {"data": {"name": "F"}, "transform": [{"filter": "datum.s == 'ATP-γ-S'"}], "mark": {"type": "line", "strokeWidth": 2.5, "color": "#808080"},
    "encoding": {
     "x": {"field": "t", "type": "quantitative", "scale": {"domain": [0, 30], "nice": false, "zero": false}, "axis": {"orient": "bottom", "values": [0, 5, 10, 15, 20, 25, 30], "tickSize": 9, "labelPadding": 7, "title": "Time after loading (min)", "titlePadding": 11}},
     "y": {"field": "v", "type": "quantitative", "scale": {"domain": [0, 1.2], "nice": false, "zero": false}, "axis": {"orient": "left", "values": [0, 0.2, 0.4, 0.6, 0.8, 1, 1.2], "format": ".1f", "tickSize": 7, "labelPadding": 5, "title": null}}}},
   {"data": {"name": "F"}, "transform": [{"filter": "datum.s == 'ATP'"}], "mark": {"type": "line", "strokeWidth": 2.5, "color": "#111111"},
    "encoding": {"x": {"field": "t", "type": "quantitative", "axis": null}, "y": {"field": "v", "type": "quantitative", "axis": null}}},
   {"data": {"name": "F"}, "transform": [{"filter": "datum.s != 'ATP' && datum.s != 'ATP-γ-S'"}], "mark": {"type": "line", "strokeWidth": 1.2},
    "encoding": {"x": {"field": "t", "type": "quantitative", "axis": null}, "y": {"field": "v", "type": "quantitative", "axis": null}, "color": {"field": "s", "type": "nominal", "scale": {"domain": ["CBD (10 µM)", "CaMKII Inhib. XII (5 µM)", "KN-93 (5 µM)"], "range": ["#c8c8c8", "#7a7a7a", "#9a9a9a"]}, "legend": null}}},
   {"data": {"name": "F"}, "transform": [{"filter": "datum.e > 0"}], "mark": {"type": "errorbar", "ticks": {"size": 6}, "thickness": 1.1},
    "encoding": {"x": {"field": "t", "type": "quantitative", "axis": null}, "y": {"field": "v", "type": "quantitative", "axis": null}, "yError": {"field": "e"}, "color": {"field": "s", "type": "nominal", "scale": {"domain": ["CBD (10 µM)", "CaMKII Inhib. XII (5 µM)", "KN-93 (5 µM)"], "range": ["#c8c8c8", "#7a7a7a", "#9a9a9a"]}, "legend": null}}},
   {"data": {"name": "F"}, "transform": [{"filter": "datum.s != 'ATP' && datum.s != 'ATP-γ-S'"}], "mark": {"type": "point", "filled": true, "opacity": 1, "strokeWidth": 1, "size": 55},
    "encoding": {"x": {"field": "t", "type": "quantitative", "axis": {"orient": "bottom", "values": [0,1,2,3,4,5,6,7,8,9,10,11,12,13,14,15,16,17,18,19,20,21,22,23,24,25,26,27,28,29,30], "tickSize": 5, "labels": false, "domain": false, "title": null}}, "y": {"field": "v", "type": "quantitative", "axis": null},
     "shape": {"field": "s", "type": "nominal", "scale": {"domain": ["CBD (10 µM)", "CaMKII Inhib. XII (5 µM)", "KN-93 (5 µM)"], "range": ["square", "triangle-down", "M0,-1L0.62,0L0,1L-0.62,0Z"]}, "legend": null},
     "fill": {"field": "s", "type": "nominal", "scale": {"domain": ["CBD (10 µM)", "CaMKII Inhib. XII (5 µM)", "KN-93 (5 µM)"], "range": ["#b4b4b4", "#7a7a7a", "#ffffff"]}, "legend": null},
     "stroke": {"field": "s", "type": "nominal", "scale": {"domain": ["CBD (10 µM)", "CaMKII Inhib. XII (5 µM)", "KN-93 (5 µM)"], "range": ["#8a8a8a", "#555555", "#555555"]}, "legend": null}}},
   {"data": {"values": [{"s": "ATP"}]}, "mark": {"type": "point", "opacity": 0},
    "encoding": {
     "shape": {"field": "s", "type": "nominal", "scale": {"domain": ["CBD (10 µM)", "CaMKII Inhib. XII (5 µM)", "KN-93 (5 µM)", "ATP", "ATP-γ-S"], "range": ["M-2,0L-0.7,0M0.7,0L2,0M-0.7,-0.7L0.7,-0.7L0.7,0.7L-0.7,0.7Z", "M-2,0L-0.44,0M0.44,0L2,0M-0.8,-0.6L0.8,-0.6L0,0.74Z", "M-2,0L-0.6,0M0.6,0L2,0M0,-0.9L0.6,0L0,0.9L-0.6,0Z", "M-2,-0.15L2.6,-0.15L2.6,0.15L-2,0.15Z", "M-2,-0.15L2.6,-0.15L2.6,0.15L-2,0.15Z"]},
      "legend": {"orient": "none", "legendX": 106.3, "legendY": 110, "title": ["", "2 mM ATP +"], "titleOrient": "left", "titleAnchor": "start", "titleBaseline": "top", "titleLineHeight": 14.3, "titlePadding": 6.6, "labelFontSize": 12.5, "labelOffset": 18.4, "symbolOffset": 5, "rowPadding": 1.7}},
     "fill": {"field": "s", "type": "nominal", "scale": {"domain": ["CBD (10 µM)", "CaMKII Inhib. XII (5 µM)", "KN-93 (5 µM)", "ATP", "ATP-γ-S"], "range": ["#b4b4b4", "#7a7a7a", "#ffffff", "#111111", "#808080"]},
      "legend": {"orient": "none", "legendX": 106.3, "legendY": 110, "title": ["", "2 mM ATP +"], "titleOrient": "left", "titleAnchor": "start", "titleBaseline": "top", "titleLineHeight": 14.3, "titlePadding": 6.6, "labelFontSize": 12.5, "labelOffset": 18.4, "symbolOffset": 5, "rowPadding": 1.7}},
     "stroke": {"field": "s", "type": "nominal", "scale": {"domain": ["CBD (10 µM)", "CaMKII Inhib. XII (5 µM)", "KN-93 (5 µM)", "ATP", "ATP-γ-S"], "range": ["#8a8a8a", "#555555", "#555555", "#111111", "#808080"]},
      "legend": {"orient": "none", "legendX": 106.3, "legendY": 110, "title": ["", "2 mM ATP +"], "titleOrient": "left", "titleAnchor": "start", "titleBaseline": "top", "titleLineHeight": 14.3, "titlePadding": 6.6, "labelFontSize": 12.5, "labelOffset": 18.4, "symbolOffset": 5, "rowPadding": 1.7}}}},
   {"data": {"values": [{}]}, "mark": {"type": "text", "text": "F", "fontSize": 23, "fontWeight": "bold", "align": "left", "baseline": "alphabetic", "dx": -72.7, "dy": -15, "color": "#111111"},
    "encoding": {"x": {"datum": 0, "type": "quantitative", "axis": null}, "y": {"datum": 1.2, "type": "quantitative", "axis": null}}},
   {"data": {"values": [{}]}, "mark": {"type": "text", "text": "Normalized", "fontSize": 13.5, "angle": 270, "align": "left", "baseline": "alphabetic", "dx": -46, "dy": -56},
    "encoding": {"x": {"datum": 0, "type": "quantitative", "axis": null}, "y": {"datum": 0.6, "type": "quantitative", "axis": null}}},
   {"data": {"values": [{}]}, "mark": {"type": "text", "text": "I", "fontSize": 13.5, "fontStyle": "italic", "angle": 270, "align": "left", "baseline": "alphabetic", "dx": 26, "dy": -56},
    "encoding": {"x": {"datum": 0, "type": "quantitative", "axis": null}, "y": {"datum": 0.6, "type": "quantitative", "axis": null}}},
   {"data": {"values": [{}]}, "mark": {"type": "text", "text": "Ca", "fontSize": 9.5, "angle": 270, "align": "left", "baseline": "alphabetic", "dx": 30.3, "dy": -53},
    "encoding": {"x": {"datum": 0, "type": "quantitative", "axis": null}, "y": {"datum": 0.6, "type": "quantitative", "axis": null}}},
   {"data": {"values": [{}]}, "mark": {"type": "text", "text": "2+", "fontSize": 8.5, "angle": 270, "align": "left", "baseline": "alphabetic", "dx": 30.8, "dy": -62.5},
    "encoding": {"x": {"datum": 0, "type": "quantitative", "axis": null}, "y": {"datum": 0.6, "type": "quantitative", "axis": null}}}
  ]
 }
]
}
